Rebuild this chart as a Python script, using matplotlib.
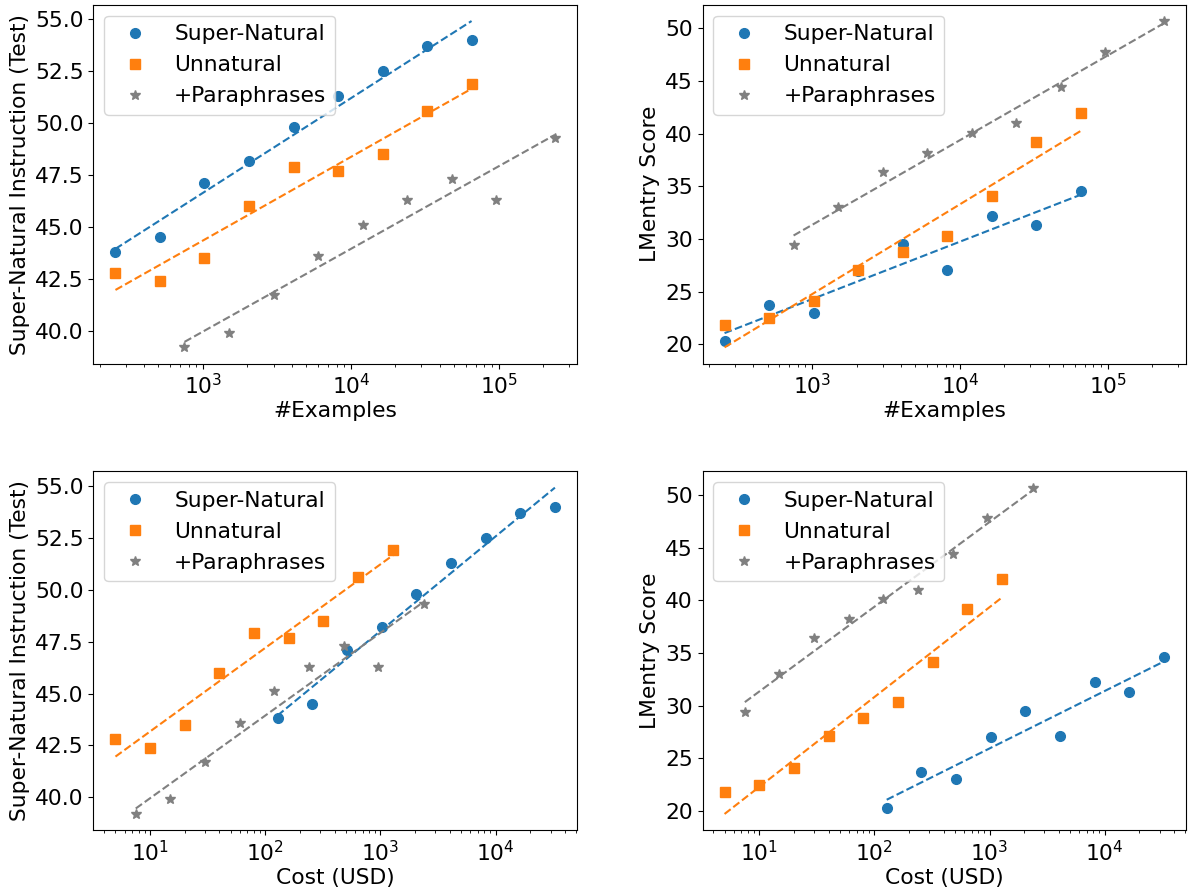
import numpy as np
from matplotlib import pyplot as plt

plt.rcParams['font.size'] = 15.7

# number of training examples per series
examples_sn = [256, 512, 1024, 2048, 4096, 8192, 16384, 32768, 65536]
examples_un = [256, 512, 1024, 2048, 4096, 8192, 16384, 32768, 65536]
examples_pp = [750, 1500, 3000, 6000, 12000, 24000, 48000, 96000, 240000]

# cost in USD per series
cost_sn = [128, 256, 512, 1024, 2048, 4096, 8192, 16384, 32768]
cost_un = [5, 10, 20, 40, 80, 160, 320, 640, 1280]
cost_pp = [7.5, 15, 30, 60, 120, 240, 480, 960, 2400]

# Super-Natural Instructions (Test) scores
sni_sn = [43.8, 44.5, 47.1, 48.2, 49.8, 51.3, 52.5, 53.7, 54.0]
sni_un = [42.8, 42.4, 43.5, 46.0, 47.9, 47.7, 48.5, 50.6, 51.9]
sni_pp = [39.2, 39.9, 41.7, 43.6, 45.1, 46.3, 47.3, 46.3, 49.3]

# LMentry scores
lm_sn = [20.3, 23.7, 23.0, 27.0, 29.5, 27.1, 32.2, 31.3, 34.6]
lm_un = [21.8, 22.5, 24.1, 27.1, 28.8, 30.3, 34.1, 39.2, 42.0]
lm_pp = [29.4, 33.0, 36.4, 38.2, 40.1, 41.0, 44.4, 47.8, 50.7]

labels = ['Super-Natural', 'Unnatural', '+Paraphrases']
colors = ['tab:blue', 'tab:orange', 'gray']
markers = ['o', 's', '*']


def plot_panel(ax, xs, ys, xlabel, ylabel):
    """ scatter points and a dashed log-linear fit for every series"""
    for x, y, lab, c, m in zip(xs, ys, labels, colors, markers):
        x = np.array(x, dtype=float)
        y = np.array(y, dtype=float)
        ax.plot(x, y, linestyle='none', marker=m, color=c, markersize=7, label=lab)
        # least squares fit on log10(x)
        k, b = np.polyfit(np.log10(x), y, 1)
        ax.plot(x, k * np.log10(x) + b, linestyle='--', color=c)
    ax.set_xscale('log')
    ax.set_xlabel(xlabel, labelpad=2)
    ax.set_ylabel(ylabel)
    ax.legend(loc='upper left')


fig, axes = plt.subplots(2, 2, figsize=(11.88, 8.88), dpi=100)
fig.subplots_adjust(left=0.0787, right=0.9983, top=0.9947, bottom=0.065,
                    wspace=0.26, hspace=0.30)

plot_panel(axes[0, 0], [examples_sn, examples_un, examples_pp],
           [sni_sn, sni_un, sni_pp], '#Examples', 'Super-Natural Instruction (Test)')
plot_panel(axes[0, 1], [examples_sn, examples_un, examples_pp],
           [lm_sn, lm_un, lm_pp], '#Examples', 'LMentry Score')
plot_panel(axes[1, 0], [cost_sn, cost_un, cost_pp],
           [sni_sn, sni_un, sni_pp], 'Cost (USD)', 'Super-Natural Instruction (Test)')
plot_panel(axes[1, 1], [cost_sn, cost_un, cost_pp],
           [lm_sn, lm_un, lm_pp], 'Cost (USD)', 'LMentry Score')

fig.savefig('out.png', dpi=100)
